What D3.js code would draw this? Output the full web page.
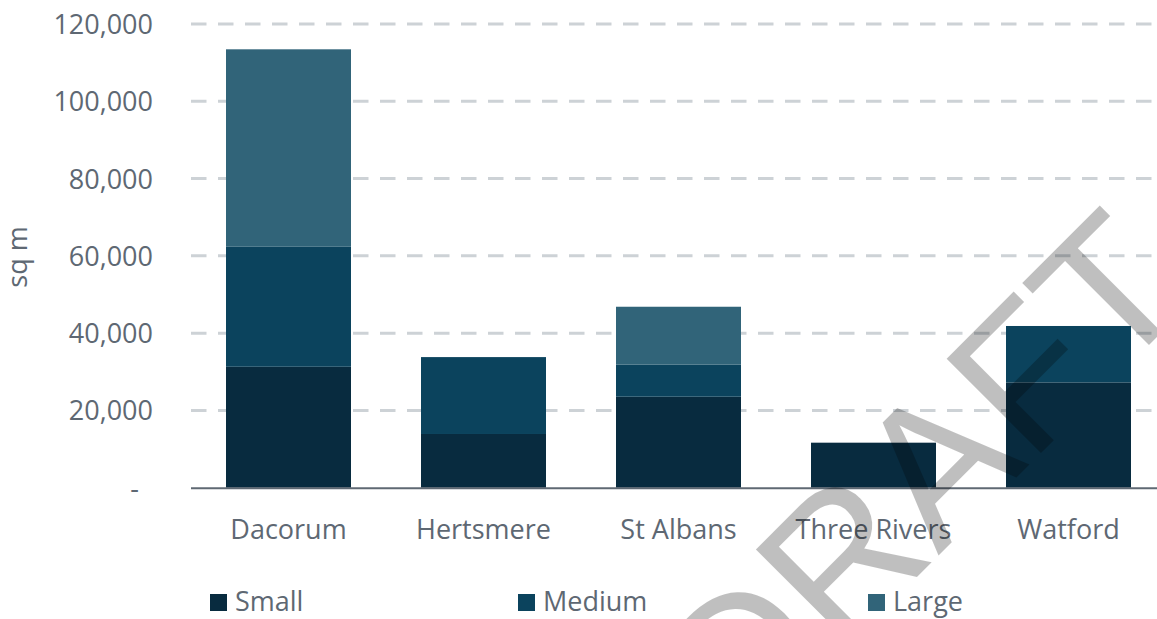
<!DOCTYPE html>
<html>
<head>
<meta charset="utf-8">
<script src="https://cdn.jsdelivr.net/npm/d3@7/dist/d3.min.js"></script>
<style>
  html, body { margin: 0; padding: 0; background: #ffffff; }
  svg { display: block; }
  text { font-family: "Open Sans", "Noto Sans", sans-serif; }
</style>
</head>
<body>
<svg id="chart" width="1157" height="619"></svg>
<script>
// ---- data ----
const categories = ["Dacorum", "Hertsmere", "St Albans", "Three Rivers", "Watford"];
const seriesNames = ["Small", "Medium", "Large"];
const small  = [31300, 13900, 23550, 11650, 27250];
const medium = [31050, 19900,  8280,     0, 14600];
const large  = [51100,     0, 15000,     0,     0];
const yTicks = [0, 20000, 40000, 60000, 80000, 100000, 120000];
const yLabel = "sq m";
const watermark = "DRAFT";

const colors = ["#082b3f", "#0b435d", "#316479"];

// ---- layout ----
const svg = d3.select("#chart");
const W = 1157, H = 619;

const x = d3.scaleBand()
  .domain(categories)
  .range([191, 1166])
  .paddingInner(0.359)
  .paddingOuter(0.1795);

const y = d3.scaleLinear()
  .domain([0, 120000])
  .range([487.7, 24]);

const rows = categories.map((c, i) => ({ cat: c, Small: small[i], Medium: medium[i], Large: large[i] }));
const stacked = d3.stack().keys(seriesNames)(rows);

const textColor = "#5e6873";

// gridlines
svg.append("g").selectAll("line")
  .data(yTicks.filter(t => t > 0))
  .join("line")
  .attr("x1", 191).attr("x2", W)
  .attr("y1", d => y(d)).attr("y2", d => y(d))
  .attr("stroke", "#cdd2d6")
  .attr("stroke-width", 3)
  .attr("stroke-dasharray", "15.5 11.5");

// y tick labels
svg.append("g").selectAll("text")
  .data(yTicks)
  .join("text")
  .attr("x", d => d === 0 ? 139 : 153)
  .attr("y", d => y(d) + 10)
  .attr("text-anchor", "end")
  .attr("font-size", 27)
  .attr("fill", textColor)
  .text(d => d === 0 ? "-" : d3.format(",")(d));

// y axis title
svg.append("text")
  .attr("transform", "translate(26.5,257) rotate(-90)")
  .attr("text-anchor", "middle")
  .attr("font-size", 27)
  .attr("fill", textColor)
  .text(yLabel);

// bars
svg.append("g").selectAll("g")
  .data(stacked)
  .join("g")
  .attr("fill", (d, i) => colors[i])
  .selectAll("rect")
  .data(d => d.filter(s => s[1] - s[0] > 0))
  .join("rect")
  .attr("x", d => x(d.data.cat))
  .attr("width", x.bandwidth())
  .attr("y", d => y(d[1]))
  .attr("height", d => y(d[0]) - y(d[1]));

// x axis line
svg.append("line")
  .attr("x1", 191).attr("x2", W)
  .attr("y1", y(0) + 0.5).attr("y2", y(0) + 0.5)
  .attr("stroke", "#5f6973")
  .attr("stroke-width", 2);

// category labels
svg.append("g").selectAll("text")
  .data(categories)
  .join("text")
  .attr("x", d => x(d) + x.bandwidth() / 2)
  .attr("y", 539)
  .attr("text-anchor", "middle")
  .attr("font-size", 27)
  .attr("fill", textColor)
  .text(d => d);

// legend
const legendX = [210, 518, 868];
const lg = svg.append("g").selectAll("g")
  .data(seriesNames)
  .join("g")
  .attr("transform", (d, i) => `translate(${legendX[i]},594)`);
lg.append("rect")
  .attr("width", 17).attr("height", 17)
  .attr("fill", (d, i) => colors[i]);
lg.append("text")
  .attr("x", 25).attr("y", 17)
  .attr("font-size", 27)
  .attr("fill", textColor)
  .text(d => d);

// watermark
svg.append("text")
  .attr("transform", "translate(740,754) rotate(-45)")
  .attr("font-family", "Liberation Sans, Arial, sans-serif")
  .attr("font-size", 194)
  .attr("fill", "#000")
  .attr("fill-opacity", 0.25)
  .style("font-family", "'Liberation Sans', Arial, sans-serif")
  .text(watermark);
</script>
</body>
</html>
